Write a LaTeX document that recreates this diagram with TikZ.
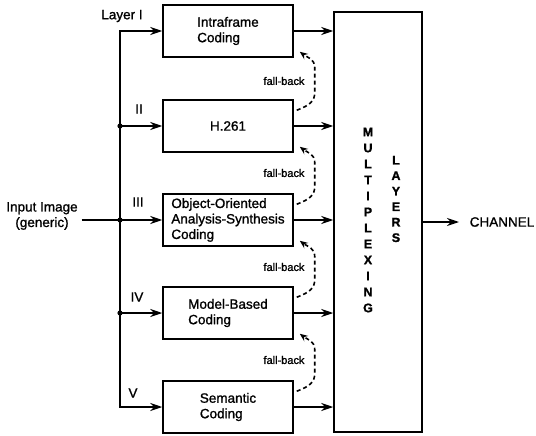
\documentclass[tikz,border=0pt]{standalone}
\usepackage{fontspec}
\setmainfont{Liberation Sans}[FakeBold = 1.2]
\usetikzlibrary{arrows.meta}
\tikzset{
	codingbox/.style = {draw, minimum width = 130pt, minimum height = 52pt, align = left, font = \fontsize{13.5}{15.5}\selectfont},
	layerlabel/.style = {font = \fontsize{13.5}{15.5}\selectfont},
	fbtext/.style = {font = \fontsize{11}{12}\selectfont, inner sep = 1pt},
	fallback/.style = {dash pattern = on 4pt off 3pt, line width = 1.6pt, -{Stealth[length = 8pt, width = 6.5pt]}},
	letterstack/.style = {align = center, font = \bfseries\fontsize{12.5}{16}\selectfont}
}
\begin{document}
\begin{tikzpicture}[x = 1pt, y = -1pt, line width = 1.5pt, >={Stealth[length = 12pt, width = 8pt]}]
\useasboundingbox (0,0) rectangle (536,436);
\node[codingbox] (b1) at (228,31) {Intraframe\\Coding};
\node[codingbox, align = center] (b2) at (228,126) {H.261};
\node[codingbox] (b3) at (228,220) {Object-Oriented\\Analysis-Synthesis\\Coding};
\node[codingbox] (b4) at (228,313) {Model-Based\\Coding};
\node[codingbox] (b5) at (228,407) {Semantic\\Coding};
\node[draw, minimum width = 88pt, minimum height = 420pt] (mux) at (378,222) {};
\node[letterstack] (mtext) at (368,220) {M\\U\\L\\T\\I\\P\\L\\E\\X\\I\\N\\G};
\node[letterstack, font = \bfseries\fontsize{12.5}{15.5}\selectfont] (ltext) at (396,199) {L\\A\\Y\\E\\R\\S};
\node[layerlabel, anchor = west, inner sep = 0pt] (channel) at (469,222) {CHANNEL};
\node[layerlabel, align = center] (input) at (42,216) {Input Image\\(generic)};
\node[layerlabel] (l1) at (122,16) {Layer I};
\node[layerlabel] (l2) at (139,109) {II};
\node[layerlabel] (l3) at (138,202) {III};
\node[layerlabel] (l4) at (137,297) {IV};
\node[layerlabel] (l5) at (133,393) {V};
\coordinate (trunk) at (120,0);
\draw[->] (trunk |- b3) -- (trunk |- b1) -- (b1.west);
\draw[->] (trunk |- b3) -- (trunk |- b5) -- (b5.west);
\draw[->] (input.east |- b3) -- (b3.west);
\foreach \i in {2,4}
{
	\draw[->] (trunk |- b\i) -- (b\i.west);
}
\foreach \i in {2,3,4}
{
	\fill (trunk |- b\i) circle (2.6pt);
}
\foreach \i in {1,...,5}
{
	\draw[->] (b\i.east) -- (b\i.east -| mux.west);
}
\foreach \i/\j in {1/2,2/3,3/4,4/5}
{
	\draw[fallback] ([shift = {(3,11)}]b\j.north east) .. controls +(13,-5) and +(0,9) .. ([shift = {(21,-7)}]b\j.north east) -- ([shift = {(21,10)}]b\i.south east) .. controls +(0,-9) and +(8,6) .. ([shift = {(6,-6)}]b\i.south east);
}
\foreach \y [count = \k] in {81,173,267,360}
{
	\node[fbtext] (fb\k) at (284,\y) {fall-back};
}
\draw[->, shorten >= 10pt] (mux.east |- channel.west) -- (channel.west);
\end{tikzpicture}
\end{document}
